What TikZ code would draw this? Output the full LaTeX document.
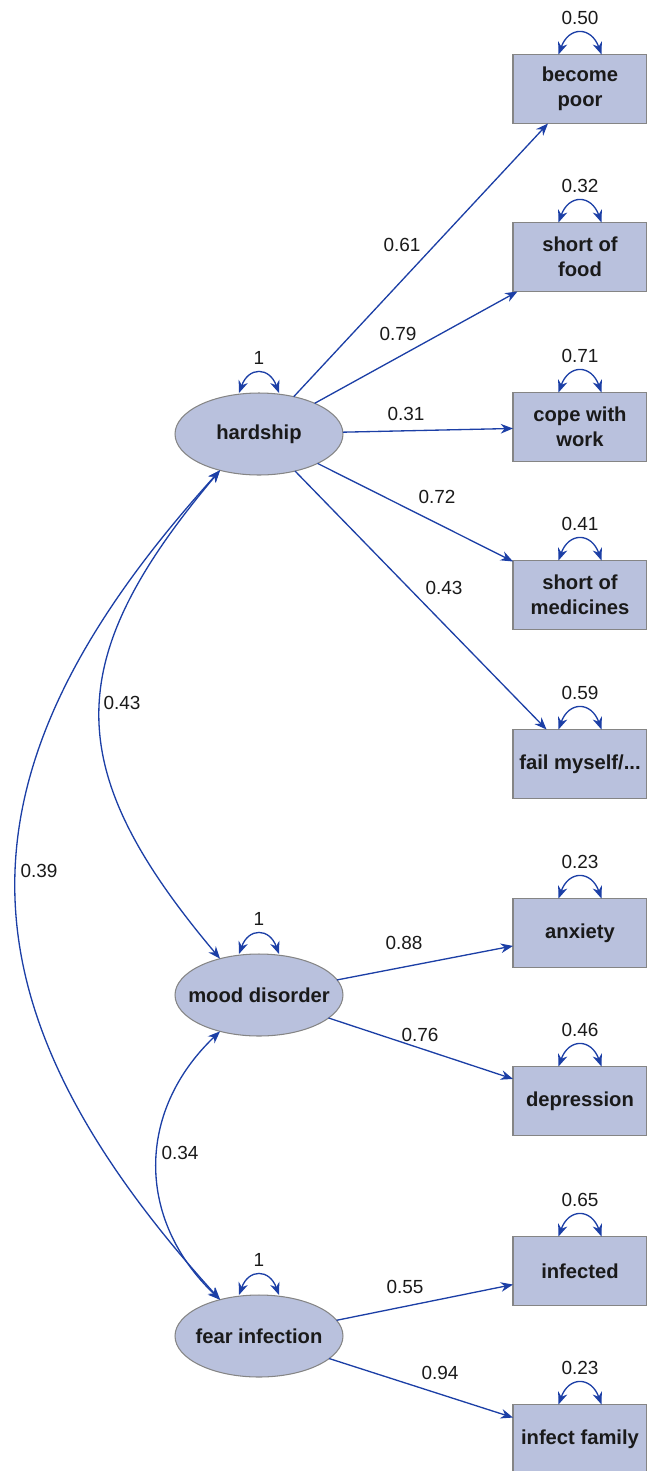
\documentclass[tikz,border=0pt]{standalone}
\usepackage{fontspec}
\setmainfont{Liberation Sans}
\usetikzlibrary{arrows.meta,shapes.geometric}
\definecolor{semline}{HTML}{1C3FA6}
\definecolor{semfill}{HTML}{B9C1DD}
\definecolor{semedge}{HTML}{858585}
\definecolor{semink}{HTML}{1A1A1A}

\begin{document}
\begin{tikzpicture}[
  x=0.02cm,
  y=0.02cm,
  every node/.style={semink},
  latent/.style={ellipse, draw=semedge, fill=semfill, line width=0.6pt,
    minimum width=3.36cm, minimum height=1.64cm, inner xsep=-0.4cm,
    inner ysep=0pt, outer sep=0pt,
    font=\fontsize{11.5}{14}\selectfont\bfseries},
  manifest/.style={rectangle, draw=semedge, fill=semfill, line width=0.6pt,
    minimum width=2.68cm, minimum height=1.38cm, inner sep=0pt, outer sep=0pt,
    align=center, font=\fontsize{11.5}{14}\selectfont\bfseries},
  coef/.style={font=\fontsize{10.8}{13}\selectfont, inner sep=0pt},
  load/.style={semline, line width=0.75pt, -{Stealth[length=7pt,width=5.5pt]}},
  cov/.style={semline, line width=0.75pt,
    {Stealth[length=7pt,width=5.5pt]}-{Stealth[length=7pt,width=5.5pt]}}
]
  % ---- page frame, the boxes run out over the right edge -----------------
  \useasboundingbox (0,0) rectangle (646,-1471);

  % ---- latent factors ---------------------------------------------------
  \node[latent] (hardship) at (259,-434)  {hardship};
  \node[latent] (mood)     at (259,-995)  {mood disorder};
  \node[latent] (fear)     at (259,-1336) {fear infection};

  % ---- observed items ---------------------------------------------------
  \node[manifest] (poor)     at (580,-89)   {become\\poor};
  \node[manifest] (food)     at (580,-257)  {short of\\food};
  \node[manifest] (work)     at (580,-427)  {cope with\\work};
  \node[manifest] (meds)     at (580,-595)  {short of\\medicines};
  \node[manifest] (fail)     at (580,-764)  {fail myself/...};
  \node[manifest] (anxiety)  at (580,-933)  {anxiety};
  \node[manifest] (depress)  at (580,-1101) {depression};
  \node[manifest] (infected) at (580,-1271) {infected};
  \node[manifest] (family)   at (580,-1439) {infect family};

  % ---- loadings ---------------------------------------------------------
  \draw[load] (hardship) -- (poor);
  \draw[load] (hardship) -- (food);
  \draw[load] (hardship) -- (work);
  \draw[load] (hardship) -- (meds);
  \draw[load] (hardship) -- (fail);
  \draw[load] (mood) -- (anxiety);
  \draw[load] (mood) -- (depress);
  \draw[load] (fear) -- (infected);
  \draw[load] (fear) -- (family);

  \node[coef] (l-poor)     at (402,-245)  {0.61};
  \node[coef] (l-food)     at (398,-334)  {0.79};
  \node[coef] (l-work)     at (406,-414)  {0.31};
  \node[coef] (l-meds)     at (437,-497)  {0.72};
  \node[coef] (l-fail)     at (444,-588)  {0.43};
  \node[coef] (l-anxiety)  at (404,-943)  {0.88};
  \node[coef] (l-depress)  at (420,-1035) {0.76};
  \node[coef] (l-infected) at (405,-1287) {0.55};
  \node[coef] (l-family)   at (440,-1373) {0.94};

  % ---- factor covariances, all on the left side ------------------------
  \draw[cov] (hardship.223) .. controls +(-160,-190) and +(-160,190) .. (mood.137);
  \draw[cov] (hardship.223) .. controls +(-272,-300) and +(-272,300) .. (fear.137);
  \draw[cov] (mood.223) .. controls +(-84,-80) and +(-84,80) .. (fear.137);

  \node[coef] (c-hm) at (122,-703)  {0.43};
  \node[coef] (c-hf) at (39,-871)   {0.39};
  \node[coef] (c-mf) at (180,-1153) {0.34};

  % ---- variances: a small loop over every node ------------------------
  \foreach \n/\v in {hardship/1, mood/1, fear/1}
    \draw[cov] ([xshift=-0.4cm]\n.north) to[out=70, in=110, looseness=1.8]
      node[coef, midway, yshift=0.3cm] (v-\n) {\v} ([xshift=0.4cm]\n.north);

  \foreach \n/\v in {poor/0.50, food/0.32, work/0.71, meds/0.41, fail/0.59,
                     anxiety/0.23, depress/0.46, infected/0.65, family/0.23}
    \draw[cov] ([xshift=-0.43cm]\n.north) to[out=70, in=110, looseness=1.8]
      node[coef, midway, yshift=0.3cm] (v-\n) {\v} ([xshift=0.43cm]\n.north);

\end{tikzpicture}
\end{document}
